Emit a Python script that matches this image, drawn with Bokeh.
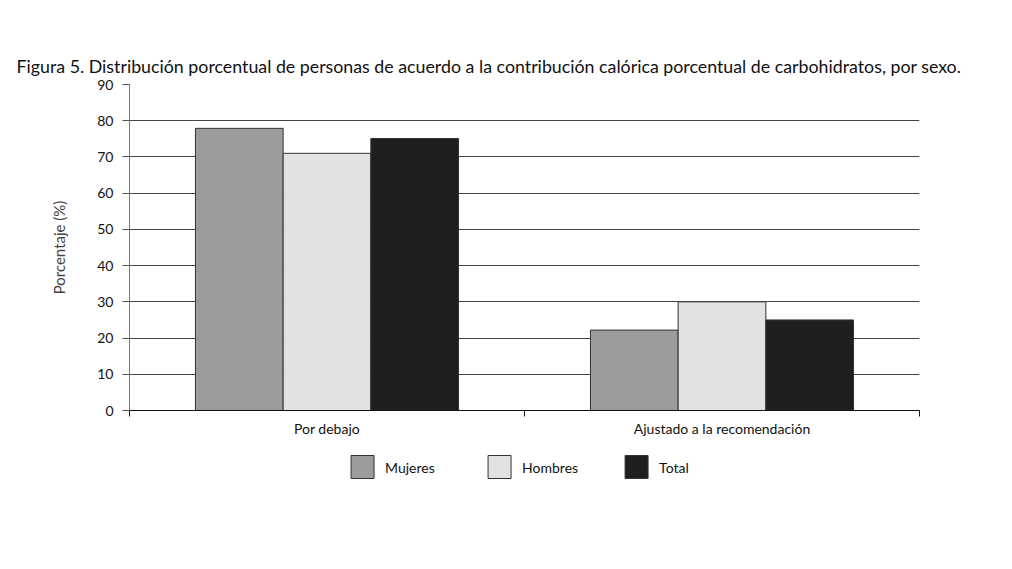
from bokeh.plotting import figure
from bokeh.models import (Range1d, FactorRange, LinearAxis, FixedTicker,
                          ColumnDataSource, Title)
from bokeh.core.properties import value
from bokeh.layouts import column
from bokeh.transform import dodge
from bokeh.embed import file_html
from bokeh.resources import INLINE

categories = ["Por debajo", "Ajustado a la recomendación"]
series = ["Mujeres", "Hombres", "Total"]
mujeres = [77.9, 22.2]
hombres = [71.0, 30.0]
total = [75.1, 25.0]
y_ticks = [0, 10, 20, 30, 40, 50, 60, 70, 80, 90]
colors = ["#9d9b9b", "#e2e2e2", "#1f1f1e"]

FONT = "Lato"
title_text = ("Figura 5. Distribución porcentual de personas de acuerdo a la contribución "
              "calórica porcentual de carbohidratos, por sexo.")

n = len(categories)
centers = [i + 0.5 for i in range(n)]
src = ColumnDataSource(dict(x=centers, cat=categories, Mujeres=mujeres, Hombres=hombres, Total=total))

BL, BR = 129, 77

p = figure(width=996, height=450, output_backend="svg", toolbar_location=None,
           x_range=Range1d(0, n), y_range=Range1d(0, 90),
           x_axis_location=None, y_axis_location=None,
           min_border_left=BL, min_border_right=BR, min_border_top=84, min_border_bottom=40)
p.outline_line_color = None
p.xgrid.visible = False
p.ygrid.ticker = FixedTicker(ticks=y_ticks)
p.ygrid.grid_line_color = "#444444"
p.ygrid.grid_line_width = 1

# Title
p.title = Title(text=title_text, align="left", offset=-113, text_font=FONT,
                text_font_size="17.8px", text_font_style="normal", text_color="#111111",
                standoff=16)

# Y axis
yax = LinearAxis(ticker=FixedTicker(ticks=y_ticks), axis_label="Porcentaje (%)",
                 axis_label_text_font=FONT, axis_label_text_font_size="15px",
                 axis_label_text_font_style="normal", axis_label_standoff=26,
                 major_label_text_font=FONT, major_label_text_font_size="14px",
                 major_label_standoff=9, axis_line_color="#777777",
                 major_tick_line_color="#555555", major_tick_out=7, major_tick_in=0,
                 minor_tick_line_color=None, major_label_text_color="#111111")
p.add_layout(yax, "left")

# Bottom tick axis (category boundaries)
bounds = list(range(n + 1))
tax = LinearAxis(ticker=FixedTicker(ticks=bounds),
                 major_label_overrides={b: "" for b in bounds}, major_label_standoff=0,
                 axis_line_color="#111111", major_tick_line_color="#111111",
                 major_tick_out=6, major_tick_in=0, minor_tick_line_color=None)
p.add_layout(tax, "below")

cax = LinearAxis(ticker=FixedTicker(ticks=centers),
                 major_label_overrides={c: lab for c, lab in zip(centers, categories)},
                 major_label_text_font=FONT, major_label_text_font_size="14px",
                 major_label_standoff=-3, axis_line_color=None,
                 major_tick_line_color=None, minor_tick_line_color=None,
                 major_label_text_color="#111111")
p.add_layout(cax, "below")

bw = 0.222
offsets = [-bw, 0.0, bw]
for s, off, c in zip(series, offsets, colors):
    p.vbar(x=dodge("x", off), top=s, width=bw, source=src,
           fill_color=c, line_color="#333333", line_width=1)

# Legend strip (categorical: one slot per series), same frame borders as the chart
lg = figure(width=996, height=33, output_backend="svg", toolbar_location=None,
            x_range=FactorRange(*series, range_padding=1.383, range_padding_units="absolute"),
            y_range=FactorRange("leyenda"),
            x_axis_location=None, y_axis_location=None,
            min_border_left=BL, min_border_right=BR, min_border_top=0, min_border_bottom=0)
lg.outline_line_color = None
lg.xgrid.visible = False
lg.ygrid.visible = False
lsrc = ColumnDataSource(dict(s=series, y=["leyenda"] * len(series), c=colors))
lx = dodge("s", -0.182, range=lg.x_range)
lg.rect(x=lx, y="y", width=23, height=23, width_units="screen", height_units="screen",
        fill_color="c", line_color="#333333", line_width=1, source=lsrc)
lg.text(x=lx, y="y", text="s", x_offset=22.5, text_baseline="middle", text_align="left",
        text_font=value(FONT), text_font_size="14px", text_color="#111111", source=lsrc)

open("out.html", "w").write(file_html(column(p, lg, spacing=0), INLINE))
